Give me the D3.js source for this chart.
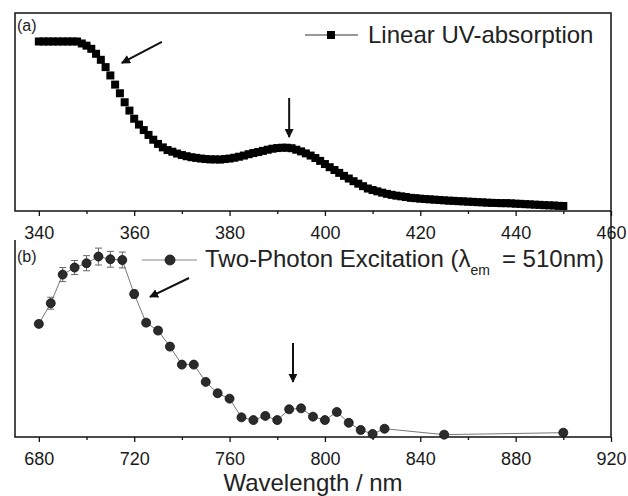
<!DOCTYPE html>
<html>
<head>
<meta charset="utf-8">
<script src="https://cdn.jsdelivr.net/npm/d3@7"></script>
<style>
  body { margin: 0; background: #fff; }
  svg { font-family: "Liberation Sans", Arial, sans-serif; }
</style>
</head>
<body>
<svg id="chart" width="628" height="496"></svg>
<script>
// (a) linear UV absorption, 1 nm steps, normalised
const uvWavelength = d3.range(340, 451);
const uvAbsorbance = [
  1.000, 1.000, 1.000, 1.000, 1.000, 1.000, 1.000, 1.000, 1.000, 0.988,
  0.975, 0.956, 0.926, 0.890, 0.846, 0.796, 0.741, 0.689, 0.635, 0.585,
  0.536, 0.501, 0.468, 0.439, 0.410, 0.385, 0.364, 0.348, 0.338, 0.327,
  0.318, 0.311, 0.305, 0.301, 0.297, 0.294, 0.292, 0.292, 0.291, 0.294,
  0.297, 0.302, 0.308, 0.315, 0.323, 0.330, 0.336, 0.343, 0.350, 0.356,
  0.360, 0.362, 0.362, 0.359, 0.350, 0.340, 0.328, 0.315, 0.300, 0.283,
  0.264, 0.245, 0.228, 0.211, 0.193, 0.177, 0.161, 0.146, 0.131, 0.117,
  0.108, 0.100, 0.092, 0.085, 0.079, 0.074, 0.070, 0.066, 0.061, 0.059,
  0.056, 0.054, 0.052, 0.050, 0.048, 0.046, 0.044, 0.043, 0.041, 0.040,
  0.038, 0.037, 0.035, 0.034, 0.032, 0.031, 0.030, 0.029, 0.029, 0.028,
  0.026, 0.025, 0.023, 0.022, 0.020, 0.019, 0.017, 0.016, 0.015, 0.013,
  0.012
];

// (b) two-photon excitation
const tpeWavelength = [680, 685, 690, 695, 700, 705, 710, 715, 720, 725, 730, 735, 740, 745, 750, 755,
  760, 765, 770, 775, 780, 785, 790, 795, 800, 805, 810, 815, 820, 825, 850, 900];
const tpeValue = [0.628, 0.743, 0.902, 0.941, 0.965, 1.002, 0.987, 0.983, 0.794, 0.635, 0.591, 0.502,
  0.402, 0.402, 0.306, 0.243, 0.213, 0.109, 0.094, 0.117, 0.094, 0.154, 0.159, 0.113, 0.094, 0.139,
  0.079, 0.039, 0.017, 0.046, 0.013, 0.024];
const tpeError = [0.017, 0.033, 0.039, 0.039, 0.042, 0.047, 0.044, 0.044, 0.022, 0.017, 0.017, 0.017,
  0.011, 0.011, 0.011, 0.011, 0.011, 0.011, 0.011, 0.011, 0.011, 0.011, 0.011, 0.011, 0.011, 0.011,
  0.011, 0.011, 0.011, 0.011, 0.017, 0.017];

const topTicks = d3.range(340, 461, 20);
const topMinor = d3.range(350, 460, 20);
const botTicks = d3.range(680, 921, 40);
const botMinor = d3.range(700, 920, 40);

// arrows: [x1, y1, x2, y2] in data units, head at (x2, y2)
const topArrows = [[365.8, 0.997, 357.4, 0.871], [392.5, 0.661, 392.5, 0.426]];
const botArrows = [[743, 0.883, 726.6, 0.778], [786.6, 0.522, 786.6, 0.306]];

const svg = d3.select('#chart');
const left = 15, right = 611;

const xTop = d3.scaleLinear().domain([335, 460]).range([left, right]);
const yTop = d3.scaleLinear().domain([-0.018, 1.171]).range([211, 13]);
const xBot = d3.scaleLinear().domain([670, 920]).range([left, right]);
const yBot = d3.scaleLinear().domain([0, 1.094]).range([437, 240]);

svg.append('defs').append('marker')
  .attr('id', 'head')
  .attr('viewBox', '0 0 10 10')
  .attr('refX', 9).attr('refY', 5)
  .attr('markerWidth', 4.5).attr('markerHeight', 4.5)
  .attr('orient', 'auto')
  .append('path').attr('d', 'M0,0L10,5L0,10Z').attr('fill', '#111');

function drawAxis(scale, y, major, minor) {
  const g = svg.append('g').attr('transform', `translate(0,${y})`);
  g.append('g')
    .call(d3.axisBottom(scale).tickValues(major).tickSize(5).tickPadding(10).tickFormat(d3.format('d')))
    .call(a => a.select('.domain').remove());
  g.append('g')
    .call(d3.axisBottom(scale).tickValues(minor).tickSize(3).tickFormat(''))
    .call(a => a.select('.domain').remove());
  g.selectAll('line').attr('stroke', '#111').attr('stroke-width', 1.3);
  g.selectAll('text').attr('font-size', 18).attr('fill', '#1a1a1a');
}

function drawArrows(list, xs, ys) {
  svg.append('g').selectAll('line')
    .data(list)
    .enter()
    .append('line')
    .attr('x1', d => xs(d[0])).attr('y1', d => ys(d[1]))
    .attr('x2', d => xs(d[2])).attr('y2', d => ys(d[3]))
    .attr('stroke', '#111')
    .attr('stroke-width', 2)
    .attr('marker-end', 'url(#head)');
}

// ---- panel (a)
svg.append('rect')
  .attr('x', left).attr('y', 13)
  .attr('width', right - left).attr('height', 198)
  .attr('fill', 'none').attr('stroke', '#111').attr('stroke-width', 1.5);
drawAxis(xTop, 211, topTicks, topMinor);

svg.append('g').selectAll('rect')
  .data(uvWavelength)
  .enter()
  .append('rect')
  .attr('x', (d, i) => xTop(d) - 4)
  .attr('y', (d, i) => yTop(uvAbsorbance[i]) - 4)
  .attr('width', 8).attr('height', 8)
  .attr('fill', '#000');

drawArrows(topArrows, xTop, yTop);

svg.append('text').attr('x', 17).attr('y', 31).attr('font-size', 16).attr('fill', '#222').text('(a)');

const legA = svg.append('g');
legA.append('line').attr('x1', 305).attr('x2', 358).attr('y1', 35).attr('y2', 35)
  .attr('stroke', '#333').attr('stroke-width', 1);
legA.append('rect').attr('x', 327).attr('y', 31).attr('width', 8).attr('height', 8).attr('fill', '#000');
legA.append('text').attr('x', 368).attr('y', 43).attr('font-size', 24).attr('fill', '#222')
  .text('Linear UV-absorption');

// ---- panel (b)
svg.append('path')
  .attr('d', `M${left},240V437H${right}V211`)
  .attr('fill', 'none').attr('stroke', '#111').attr('stroke-width', 1.5);
drawAxis(xBot, 437, botTicks, botMinor);

const tpe = tpeWavelength.map((w, i) => ({ w: w, v: tpeValue[i], e: tpeError[i] }));

svg.append('path')
  .datum(tpe)
  .attr('d', d3.line().x(d => xBot(d.w)).y(d => yBot(d.v)))
  .attr('fill', 'none').attr('stroke', '#777').attr('stroke-width', 1);

const err = svg.append('g').attr('stroke', '#666').attr('stroke-width', 1);
err.selectAll('line.bar').data(tpe).enter().append('line')
  .attr('x1', d => xBot(d.w)).attr('x2', d => xBot(d.w))
  .attr('y1', d => yBot(d.v - d.e)).attr('y2', d => yBot(d.v + d.e));
err.selectAll('line.capTop').data(tpe).enter().append('line')
  .attr('x1', d => xBot(d.w) - 3.5).attr('x2', d => xBot(d.w) + 3.5)
  .attr('y1', d => yBot(d.v + d.e)).attr('y2', d => yBot(d.v + d.e));
err.selectAll('line.capBot').data(tpe).enter().append('line')
  .attr('x1', d => xBot(d.w) - 3.5).attr('x2', d => xBot(d.w) + 3.5)
  .attr('y1', d => yBot(d.v - d.e)).attr('y2', d => yBot(d.v - d.e));

svg.append('g').selectAll('circle')
  .data(tpe)
  .enter()
  .append('circle')
  .attr('cx', d => xBot(d.w))
  .attr('cy', d => yBot(d.v))
  .attr('r', 4.5)
  .attr('fill', '#2b2b2b')
  .attr('stroke', '#111').attr('stroke-width', 0.8);

drawArrows(botArrows, xBot, yBot);

svg.append('text').attr('x', 17).attr('y', 262).attr('font-size', 16).attr('fill', '#222').text('(b)');

const legB = svg.append('g');
legB.append('line').attr('x1', 142).attr('x2', 197).attr('y1', 260).attr('y2', 260)
  .attr('stroke', '#888').attr('stroke-width', 1.2);
legB.append('circle').attr('cx', 170).attr('cy', 260).attr('r', 5)
  .attr('fill', '#2b2b2b').attr('stroke', '#111').attr('stroke-width', 0.8);
const legText = legB.append('text').attr('x', 205).attr('y', 267).attr('font-size', 24).attr('fill', '#222');
legText.append('tspan').text('Two-Photon Excitation (\u03bb');
legText.append('tspan').attr('font-size', 14).attr('dy', 8).text('em');
legText.append('tspan').attr('dy', -8).text('\u2002= 510nm)');

svg.append('text')
  .attr('x', 313).attr('y', 491)
  .attr('text-anchor', 'middle')
  .attr('font-size', 24).attr('fill', '#222')
  .text('Wavelength / nm');
</script>
</body>
</html>
